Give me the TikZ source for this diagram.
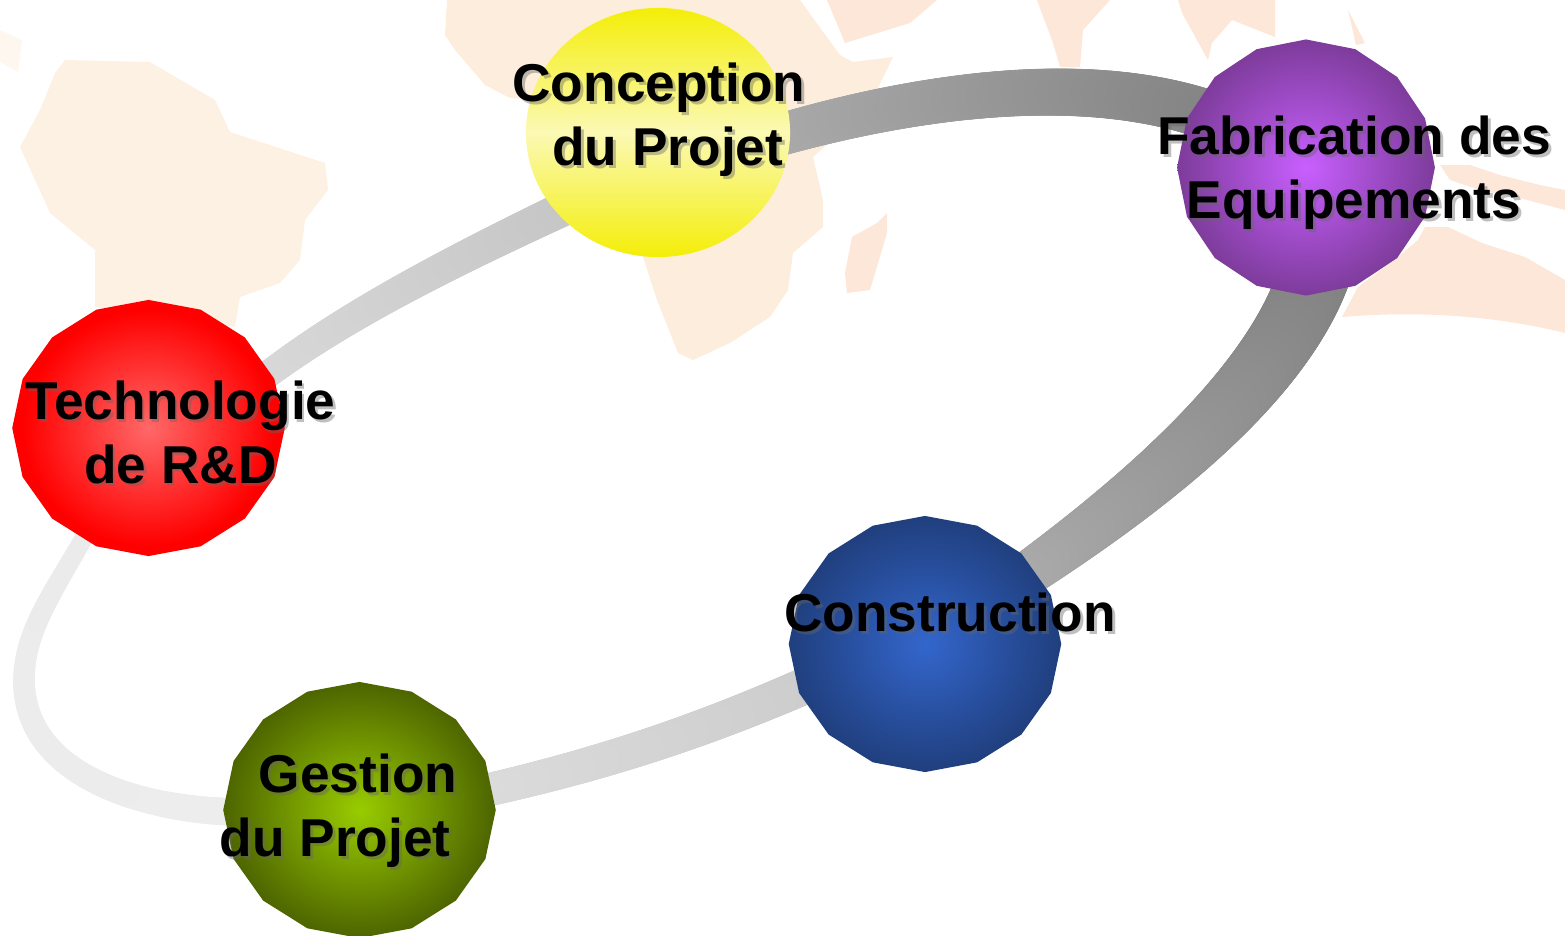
\documentclass[tikz,border=0pt]{standalone}
\usepackage{fontspec}
\setmainfont{Liberation Sans}
\usetikzlibrary{shapes.geometric,decorations.markings,backgrounds,calc}

\definecolor{mapsoft}{HTML}{FDF1E3}
\definecolor{mapfaint}{HTML}{FEF7EF}
\definecolor{mapmid}{HTML}{FDEDDC}
\definecolor{mapdeep}{HTML}{FCE7D8}
\definecolor{yellowout}{HTML}{F4EE08}
\definecolor{yellowin}{HTML}{FBF9B4}
\definecolor{redin}{HTML}{FF6868}
\definecolor{redout}{HTML}{FF0000}
\definecolor{purplein}{HTML}{C85FFF}
\definecolor{purpleout}{HTML}{7A3A96}
\definecolor{bluein}{HTML}{3366CC}
\definecolor{blueout}{HTML}{1F3D7A}
\definecolor{greenin}{HTML}{99CC00}
\definecolor{greenout}{HTML}{4A6000}
\definecolor{ringtech}{HTML}{D9D9D9}
\definecolor{ringconc}{HTML}{C6C6C6}
\definecolor{ringconcb}{HTML}{ABABAB}
\definecolor{ringfab}{HTML}{858585}
\definecolor{ringfabb}{HTML}{808080}
\definecolor{ringcons}{HTML}{A9A9A9}
\definecolor{ringconsb}{HTML}{CCCCCC}
\definecolor{ringgest}{HTML}{DBDBDB}
\definecolor{ringgestb}{HTML}{EDEDED}
\definecolor{ringtechb}{HTML}{EBEBEB}
\pgfdeclareradialshading{ballred}{\pgfpointorigin}{color(0bp)=(redin);color(23bp)=(redout);color(100bp)=(redout)}
\pgfdeclareradialshading{ballpurple}{\pgfpointorigin}{color(0bp)=(purplein);color(26bp)=(purpleout);color(100bp)=(purpleout)}
\pgfdeclareradialshading{ballblue}{\pgfpointorigin}{color(0bp)=(bluein);color(26bp)=(blueout);color(100bp)=(blueout)}
\pgfdeclareradialshading{ballgreen}{\pgfpointorigin}{color(0bp)=(greenin);color(26bp)=(greenout);color(100bp)=(greenout)}

\tikzset{
    ball/.style={regular polygon, regular polygon sides=16, shape border rotate=11.25, minimum size=2.56cm,
        inner sep=0pt, outer sep=0pt, xscale=1.064, transform shape, shade},
    ring/.style n args={4}{line width=0.1cm, draw=#1, postaction={decorate}, decoration={markings,
        mark=between positions 0 and 1 step 0.005 with {
            \pgfkeysgetvalue{/pgf/decoration/mark info/sequence number}{\ringseq}
            \pgfmathsetmacro{\ringpct}{min(100,(\ringseq-1)/2)}
            \pgfmathsetmacro{\ringrad}{(#3+(#4-#3)*\ringpct/100)/2}
            \fill[color=#2!\ringpct!#1] (0,0) circle [radius=\ringrad*0.01cm];
        }}},
    balltext/.style={font=\bfseries\fontsize{15.15}{18.2}\selectfont, align=center, inner sep=0pt, anchor=center},
    ballshade/.style={balltext, text=black!60, opacity=0.42}
}

\begin{document}
\begin{tikzpicture}[x=0.01cm, y=-0.01cm]
    \useasboundingbox (0,0) rectangle (1565,936);

    % Balls
    \node[ball, shading=ballred] (techball) at (148.5,428) {};
    \node[ellipse, minimum width=2.64cm, minimum height=2.49cm, inner sep=0pt, outer sep=0pt,
        top color=yellowout, bottom color=yellowout, middle color=yellowin] (concball) at (658,132.5) {};
    \node[ball, xscale=0.946, shading=ballpurple] (fabball) at (1306,167.5) {};
    \node[ball, shading=ballblue] (consball) at (925,644) {};
    \node[ball, shading=ballgreen] (gestball) at (359.5,810) {};

    \begin{pgfonlayer}{background}
        % Map
        \fill[mapsoft] (55,73) -- (65,60) -- (150,62) -- (215,100) -- (230,132) -- (325,163) -- (328,190) -- (305,220)
            -- (300,260) -- (280,283) -- (240,297) -- (235,327) -- (95,307) -- (95,250) -- (50,213) -- (20,147) -- (40,110) -- cycle;
        \fill[mapfaint] (0,30) -- (22,40) -- (18,72) -- (0,62) -- cycle;
        \fill[mapmid] (447,0) -- (800,0) -- (840,55) -- (853,62) -- (893,57) -- (877,90) -- (860,115) -- (813,157)
            -- (823,200) -- (823,227) -- (793,253) -- (788,290) -- (770,317) -- (730,343) -- (693,360) -- (678,353)
            -- (657,300) -- (643,257) -- (540,100) -- (510,98) -- (485,85) -- (455,50) -- (445,35) -- cycle;
        \fill[mapdeep] (827,0) -- (845,43) -- (910,23) -- (937,0) -- cycle;
        \fill[mapdeep] (1037,0) -- (1053,43) -- (1060,67) -- (1080,67) -- (1083,30) -- (1110,0) -- cycle;
        \fill[mapdeep] (887,213) -- (887,233) -- (870,290) -- (847,293) -- (845,273) -- (852,237) -- (877,223) -- cycle;
        \fill[mapdeep] (1178,0) -- (1182,13) -- (1208,60) -- (1212,43) -- (1232,20) -- (1275,37) -- (1275,0) -- cycle;
        \fill[mapdeep] (1348,10) -- (1365,43) -- (1356,45) -- cycle;
        \fill[mapdeep] (1440,165) -- (1470,165) -- (1500,175) -- (1540,185) -- (1565,190) -- (1565,210) -- (1520,198)
            -- (1480,190) -- (1450,180) -- cycle;
        \fill[mapdeep] (1342,317) .. controls (1400,312) and (1480,312) .. (1565,333) -- (1565,280) -- (1525,257) -- (1482,243)
            -- (1448,227) -- (1425,227) -- (1418,240) -- (1398,257) -- (1358,287) -- cycle;

        % Ring
        \draw[ring={ringtech}{ringconc}{27}{35}] ($(techball.24)!0.12!(techball.center)$) .. controls (340,318) and (450,262)
            .. ($(concball.221)!0.18!(concball.center)$);
        \draw[ring={ringconcb}{ringfab}{42}{50}] ($(concball.358)!0.12!(concball.center)$) .. controls (900,100) and (1080,68)
            .. ($(fabball.151)!0.18!(fabball.center)$);
        \draw[ring={ringfabb}{ringcons}{72}{44}] ($(fabball.276)!0.2!(fabball.center)$) .. controls (1282,380) and (1150,490)
            .. ($(consball.36)!0.15!(consball.center)$);
        \draw[ring={ringconsb}{ringgest}{37}{33}] ($(consball.200)!0.12!(consball.center)$) .. controls (700,732) and (600,765)
            .. ($(gestball.9)!0.12!(gestball.center)$);
        \draw[ring={ringgestb}{ringtechb}{28}{18}] ($(gestball.181)!0.1!(gestball.center)$) .. controls (140,810) and (24,775) .. (24,680)
            .. controls (24,630) and (55,590) .. ($(techball.241)!0.12!(techball.center)$);
    \end{pgfonlayer}

    % Labels
    \node[ballshade] (techshade) at (183,435) {Technologie\\de R\&D};
    \node[balltext] (techtext) at (180.5,432) {Technologie\\de R\&D};
    \node[ballshade] (concshade) at (662,123) {Conception\\\hspace*{5pt}du Projet};
    \node[balltext] (conctext) at (659,120) {Conception\\\hspace*{5pt}du Projet};
    \node[ballshade] (fabshade) at (1357,176) {Fabrication des\\Equipements};
    \node[balltext] (fabtext) at (1354,173) {Fabrication des\\Equipements};
    \node[ballshade] (consshade) at (953,615) {Construction};
    \node[balltext] (constext) at (950,612) {Construction};
    \node[ballshade] (gestshade) at (361,814) {Gestion\\du Projet\hspace*{13pt}};
    \node[balltext] (gesttext) at (358,811) {Gestion\\du Projet\hspace*{13pt}};
\end{tikzpicture}
\end{document}
